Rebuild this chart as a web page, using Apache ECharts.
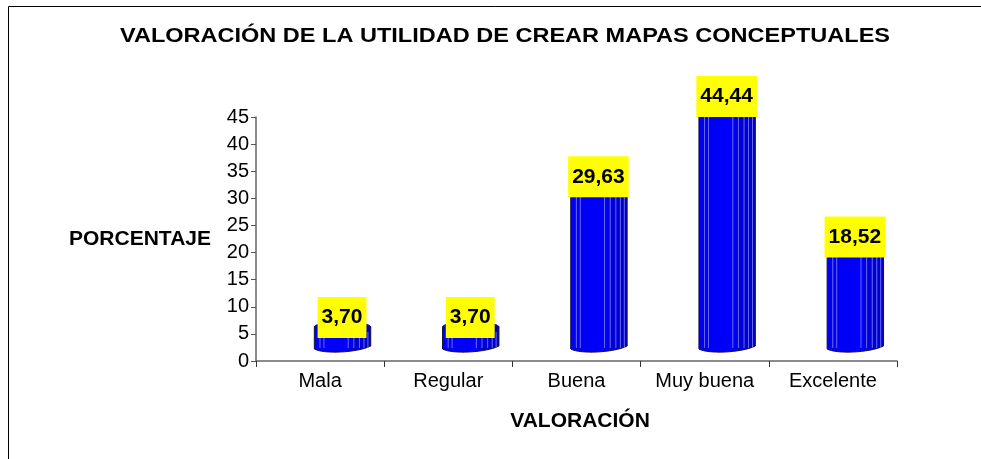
<!DOCTYPE html>
<html>
<head>
<meta charset="utf-8">
<script src="https://cdn.jsdelivr.net/npm/echarts@6/dist/echarts.min.js"></script>
<style>
  html, body { margin: 0; padding: 0; background: #fff; }
  #chart { width: 981px; height: 459px; }
</style>
</head>
<body>
<div id="chart"></div>
<script>
// datos
const categories = ['Mala', 'Regular', 'Buena', 'Muy buena', 'Excelente'];
const percentages = [3.70, 3.70, 29.63, 44.44, 18.52];
const yTicks = { min: 0, max: 45, step: 5 };

const FONT = "'Liberation Sans', Arial, sans-serif";

// barra tipo cilindro (estilo Excel 3D), desplazada a la derecha por la profundidad
function renderCylinder(params, api) {
  const i = api.value(0);
  const v = api.value(1);
  const top = api.coord([i, v]);
  const base = api.coord([i, 0]);
  const band = api.size([1, 0])[0];
  const w = band * 0.44;
  const cx = top[0] + band * 0.175;
  const L = cx - w / 2, R = cx + w / 2;
  const yb = base[1] - 10;
  const yt = top[1] - 14;

  const body = 'M' + L + ' ' + yt +
    ' L' + L + ' ' + (yb - 2) +
    ' C' + (L + w * 0.15) + ' ' + (yb + 3) + ' ' + (R - w * 0.25) + ' ' + (yb + 2) + ' ' + R + ' ' + (yb - 5) +
    ' L' + R + ' ' + yt + ' Z';

  const children = [{
    type: 'path',
    shape: { pathData: body },
    style: {
      fill: {
        type: 'linear', x: 0, y: 0, x2: 1, y2: 0,
        colorStops: [
          { offset: 0, color: '#0000ee' },
          { offset: 0.62, color: '#0000ff' },
          { offset: 0.66, color: '#0000dd' },
          { offset: 1, color: '#0000c4' }
        ]
      },
      stroke: '#10104a',
      lineWidth: 1
    }
  }];

  [0.1, 0.17, 0.6, 0.7, 0.8, 0.88, 0.95].forEach(function (f) {
    children.push({
      type: 'line',
      shape: { x1: L + f * w, y1: yt + 5, x2: L + f * w, y2: yb - 3 },
      style: { stroke: 'rgba(140,140,255,0.75)', lineWidth: 1 }
    });
  });

  children.push({
    type: 'ellipse',
    shape: { cx: cx, cy: yt, rx: w / 2, ry: 5 },
    style: { fill: '#0000d8', stroke: '#10104a', lineWidth: 1 }
  });

  children.push({
    type: 'text',
    style: {
      text: v.toFixed(2).replace('.', ','),
      x: cx - 0.5,
      y: top[1] - 3,
      align: 'center',
      verticalAlign: 'bottom',
      font: 'bold 21px ' + FONT,
      fill: '#000',
      backgroundColor: '#ffff00',
      padding: [10, 4, 10, 4]
    }
  });

  return { type: 'group', children: children };
}

const chart = echarts.init(document.getElementById('chart'), null, { renderer: 'canvas' });

chart.setOption({
  backgroundColor: '#ffffff',
  animation: false,
  grid: { left: 256, right: 84, top: 117, bottom: 98 },
  graphic: [
    {
      type: 'rect',
      shape: { x: 8.5, y: 6.5, width: 1200, height: 1000 },
      style: { fill: 'none', stroke: '#000', lineWidth: 1 },
      silent: true
    },
    {
      type: 'text',
      x: 505, y: 36,
      scaleX: 1.12,
      style: {
        text: 'VALORACIÓN DE LA UTILIDAD DE CREAR MAPAS CONCEPTUALES',
        align: 'center', verticalAlign: 'middle',
        font: 'bold 21px ' + FONT, fill: '#000'
      }
    },
    {
      type: 'text',
      x: 140, y: 239,
      style: {
        text: 'PORCENTAJE',
        align: 'center', verticalAlign: 'middle',
        font: 'bold 21px ' + FONT, fill: '#000'
      }
    },
    {
      type: 'text',
      x: 580, y: 421,
      style: {
        text: 'VALORACIÓN',
        align: 'center', verticalAlign: 'middle',
        font: 'bold 21px ' + FONT, fill: '#000'
      }
    }
  ],
  xAxis: {
    type: 'category',
    data: categories,
    boundaryGap: true,
    axisLine: { lineStyle: { color: '#666', width: 1.5 } },
    axisTick: { show: true, alignWithLabel: false, length: 6, lineStyle: { color: '#333' } },
    axisLabel: { interval: 0, color: '#000', fontFamily: FONT, fontSize: 20, margin: 10 }
  },
  yAxis: {
    type: 'value',
    min: yTicks.min, max: yTicks.max, interval: yTicks.step,
    splitLine: { show: false },
    axisLine: { show: true, lineStyle: { color: '#666', width: 1.5 } },
    axisTick: { show: true, length: 5, lineStyle: { color: '#555' } },
    axisLabel: { color: '#000', fontFamily: FONT, fontSize: 20, margin: 7 }
  },
  series: [{
    type: 'custom',
    renderItem: renderCylinder,
    encode: { x: 0, y: 1 },
    data: percentages.map(function (v, i) { return [i, v]; }),
    clip: false,
    z: 3
  }]
});
</script>
</body>
</html>
